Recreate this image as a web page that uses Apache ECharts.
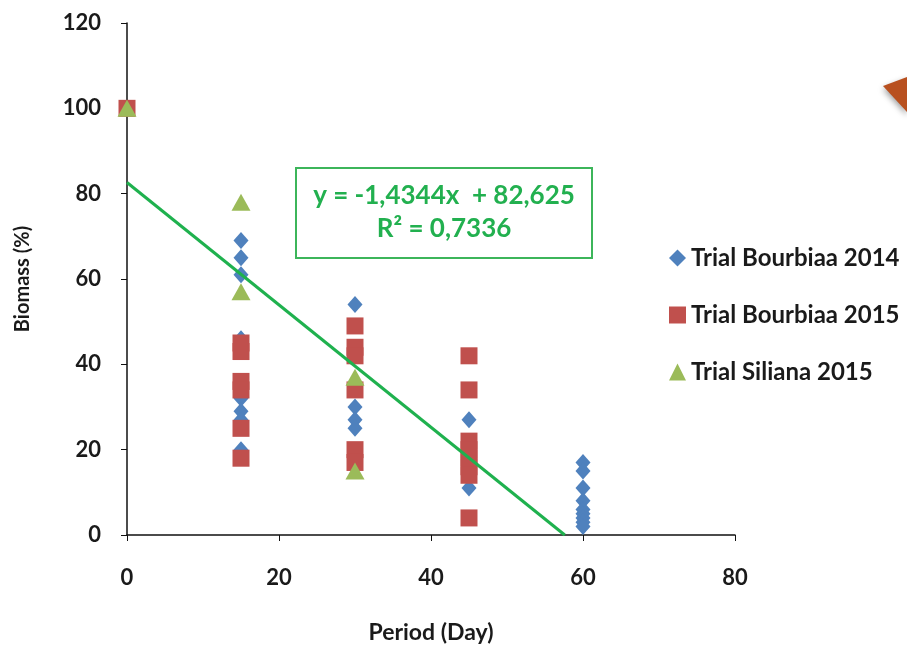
<!DOCTYPE html>
<html><head><meta charset="utf-8">
<script src="https://cdn.jsdelivr.net/npm/echarts@6/dist/echarts.min.js"></script>
<style>html,body{margin:0;padding:0;background:#fff}#c{width:907px;height:649px}</style>
</head><body><div id="c"></div>
<script>
const xTicks = [0, 20, 40, 60, 80];
const yTicks = [0, 20, 40, 60, 80, 100, 120];
const bourbiaa2014 = [[0,100],[15,69],[15,65],[15,61],[15,46],[15,32],[15,29],[15,27],[15,20],
  [30,54],[30,30],[30,27],[30,25],[45,27],[45,21],[45,19],[45,11],
  [60,17],[60,15],[60,11],[60,8],[60,6],[60,5],[60,4],[60,3],[60,2]];
const bourbiaa2015 = [[0,100],[15,45],[15,43],[15,36],[15,34],[15,25],[15,18],
  [30,49],[30,44],[30,42],[30,34],[30,20],[30,17],
  [45,42],[45,34],[45,22],[45,20],[45,18],[45,16],[45,14],[45,4]];
const siliana2015 = [[0,100],[15,78],[15,57],[30,37],[30,15]];
const slope = -1.4344, intercept = 82.625, r2 = 0.7336;
const trendX = [0, -intercept / slope];
const trend = trendX.map(x => [x, slope * x + intercept]);

const fnt = 'Lato, "Open Sans", sans-serif';
const txt = '#1a1a1a';
const chart = echarts.init(document.getElementById('c'));
chart.setOption({
  animation: false,
  grid: {left: 127, right: 172, top: 23, bottom: 114},
  legend: {
    orient: 'vertical', left: 664, top: 241, itemGap: 33, itemWidth: 17, itemHeight: 17,
    textStyle: {fontFamily: fnt, fontWeight: 'bold', fontSize: 24, color: txt},
    data: ['Trial Bourbiaa 2014', 'Trial Bourbiaa 2015', 'Trial Siliana 2015']
  },
  xAxis: {
    type: 'value', min: 0, max: 80, interval: 20,
    name: 'Period (Day)', nameLocation: 'middle', nameGap: 86,
    nameTextStyle: {fontFamily: fnt, fontWeight: 'bold', fontSize: 23, color: txt},
    axisLine: {lineStyle: {color: '#111', width: 1.5}},
    axisTick: {show: true, length: 6, lineStyle: {color: '#111'}},
    axisLabel: {fontFamily: fnt, fontWeight: 'bold', fontSize: 22, color: txt, margin: 32,
      formatter: v => xTicks.includes(v) ? String(v) : ''},
    splitLine: {show: false}
  },
  yAxis: {
    type: 'value', min: 0, max: 120, interval: 20,
    name: 'Biomass (%)', nameLocation: 'middle', nameGap: 94, nameRotate: 90,
    nameTextStyle: {fontFamily: fnt, fontWeight: 'bold', fontSize: 20, color: txt},
    axisLine: {show: true, lineStyle: {color: '#111', width: 1.5}},
    axisTick: {show: true, length: 6, lineStyle: {color: '#111'}},
    axisLabel: {fontFamily: fnt, fontWeight: 'bold', fontSize: 22, color: txt, margin: 26,
      formatter: v => yTicks.includes(v) ? String(v) : ''},
    splitLine: {show: false}
  },
  series: [
    {name: 'Trial Bourbiaa 2014', type: 'scatter', symbol: 'diamond', symbolSize: [15, 17],
     itemStyle: {color: '#4f81bd', opacity: 1}, data: bourbiaa2014, z: 3},
    {name: 'Trial Bourbiaa 2015', type: 'scatter', symbol: 'rect', symbolSize: [17, 17],
     itemStyle: {color: '#c0504d', opacity: 1}, data: bourbiaa2015, z: 4},
    {name: 'Trial Siliana 2015', type: 'scatter', symbol: 'triangle', symbolSize: [19, 17],
     itemStyle: {color: '#9bbb59', opacity: 1}, data: siliana2015, z: 5},
    {name: 'trend', type: 'line', data: trend, symbol: 'none', silent: true,
     lineStyle: {color: '#1fb14e', width: 3}, z: 6}
  ],
  graphic: [
    {type: 'rect', x: 296, y: 168, shape: {width: 296, height: 90},
     style: {fill: '#fff', stroke: '#3cb55a', lineWidth: 2}, z: 10},
    {type: 'text', x: 444, y: 179, z: 11,
     style: {text: 'y = -1,4344x  + 82,625\nR² = 0,' + String(r2).split('.')[1], fill: '#22b04f',
       font: 'bold 26px ' + fnt, textAlign: 'center', lineHeight: 33}},
    {type: 'polygon', shape: {points: [[883, 86], [907, 77], [907, 112]]},
     style: {fill: '#b8501f', shadowBlur: 6, shadowColor: 'rgba(0,0,0,0.4)', shadowOffsetY: 3}, z: 10}
  ]
});
</script></body></html>
